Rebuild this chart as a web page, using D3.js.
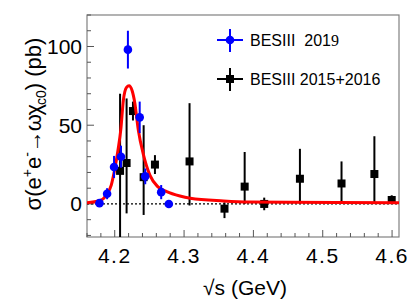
<!DOCTYPE html>
<html>
<head>
<meta charset="utf-8">
<script src="https://cdn.jsdelivr.net/npm/d3@7"></script>
<style>
  body { margin: 0; background: #fff; }
  svg { display: block; font-family: "Liberation Sans", Arial, sans-serif; }
</style>
</head>
<body>
<div id="chart"></div>
<script>
// BESIII 2019 (blue circles)
const blueE = [4.178, 4.189, 4.199, 4.209, 4.219, 4.236, 4.244, 4.267, 4.278]
const blueV = [0.5, 6.5, 23.5, 30, 98, 55, 17.5, 7.5, 0]
const blueErr = [1.5, 3.5, 7, 7, 12, 10, 5, 4.5, 1.5]

// BESIII 2015+2016 (black squares), asymmetric errors
const blackE = [4.2077, 4.2171, 4.2263, 4.2417, 4.258, 4.3079, 4.3583, 4.3874, 4.4156, 4.4671, 4.5271, 4.5745, 4.5995]
const blackV = [21, 26, 59, 17, 25, 27, -3, 11, 0, 16, 13, 19, 2.5]
const blackUp = [49, 41, 6, 33, 6, 37, 4, 22, 4, 19, 14, 24, 3]
const blackDn = [49, 32, 6, 24, 6, 28, 6, 11, 4, 16, 13, 19, 2.5]

// fit curve
const fitE = [4.16, 4.178, 4.188, 4.195, 4.2, 4.205, 4.2087, 4.2125, 4.217, 4.2206, 4.225, 4.229, 4.234, 4.241, 4.251, 4.262, 4.275, 4.294, 4.309, 4.357, 4.395, 4.45, 4.52, 4.61]
const fitV = [0.8, 2, 5.7, 12, 22, 35, 47, 66, 74, 75, 72, 64, 47, 32, 18, 11, 7.8, 5, 3.6, 1.9, 1.2, 1, 0.9, 0.8]

const xTicks = [4.2, 4.3, 4.4, 4.5, 4.6]
const yTicks = [0, 50, 100]

const W = 418, H = 300
const L = 87, R = 399, T = 15, B = 237

const svg = d3.select("#chart").append("svg").attr("width", W).attr("height", H)

const x = d3.scaleLinear().domain([4.16, 4.61]).range([L, R])
const y = d3.scaleLinear().domain([-21, 120]).range([B, T])

svg.append("clipPath").attr("id", "clip")
  .append("rect").attr("x", L).attr("y", T).attr("width", R - L).attr("height", B - T)

// frame
svg.append("rect")
  .attr("x", L).attr("y", T).attr("width", R - L).attr("height", B - T)
  .attr("fill", "none").attr("stroke", "#808080").attr("stroke-width", 1.2)

// ticks (inward)
const xMinor = d3.range(4.16, 4.611, 0.02)
svg.append("g").selectAll("line").data(xMinor).enter().append("line")
  .attr("x1", (d) => x(d)).attr("x2", (d) => x(d))
  .attr("y1", B)
  .attr("y2", (d) => xTicks.some((t) => Math.abs(t - d) < 1e-6) ? B - 7 : B - 4)
  .attr("stroke", "#555").attr("stroke-width", 1)

const yMinor = d3.range(-20, 121, 10)
svg.append("g").selectAll("line").data(yMinor).enter().append("line")
  .attr("y1", (d) => y(d)).attr("y2", (d) => y(d))
  .attr("x1", L)
  .attr("x2", (d) => yTicks.includes(d) ? L + 7 : L + 4)
  .attr("stroke", "#555").attr("stroke-width", 1)

// tick labels
svg.append("g").selectAll("text").data(xTicks).enter().append("text")
  .attr("x", (d) => x(d)).attr("y", 263)
  .attr("text-anchor", "middle").attr("font-size", 21)
  .attr("letter-spacing", 1.5)
  .text((d) => d.toFixed(1))

svg.append("g").selectAll("text").data(yTicks).enter().append("text")
  .attr("x", 82).attr("y", (d) => y(d) + 7.5)
  .attr("text-anchor", "end").attr("font-size", 21)
  .text((d) => d)

// axis titles
svg.append("text")
  .attr("x", 245).attr("y", 295)
  .attr("text-anchor", "middle").attr("font-size", 21)
  .text("√s (GeV)")

const yTitle = svg.append("text")
  .attr("transform", "translate(41,124) rotate(-90)")
  .attr("text-anchor", "middle").attr("font-size", 22)
yTitle.append("tspan").text("σ(e")
yTitle.append("tspan").attr("font-size", 14).attr("dy", -9).text("+")
yTitle.append("tspan").attr("dy", 9).text("e")
yTitle.append("tspan").attr("font-size", 14).attr("dy", -9).text("-")
yTitle.append("tspan").attr("dy", 9).attr("letter-spacing", -1).text("→ωχ")
yTitle.append("tspan").attr("font-size", 14).attr("dy", 5).text("c0")
yTitle.append("tspan").attr("dy", -5).text(") (pb)")

const plot = svg.append("g").attr("clip-path", "url(#clip)")

// zero line
plot.append("line")
  .attr("x1", L).attr("x2", R).attr("y1", y(0)).attr("y2", y(0))
  .attr("stroke", "#000").attr("stroke-width", 1.2).attr("stroke-dasharray", "2,2")

// black points
const black = blackE.map((e, i) => ({ e, v: blackV[i], up: blackUp[i], dn: blackDn[i] }))
plot.append("g").selectAll("line").data(black).enter().append("line")
  .attr("x1", (d) => x(d.e)).attr("x2", (d) => x(d.e))
  .attr("y1", (d) => y(d.v + d.up)).attr("y2", (d) => y(d.v - d.dn))
  .attr("stroke", "#000").attr("stroke-width", 2)
plot.append("g").selectAll("rect").data(black).enter().append("rect")
  .attr("x", (d) => x(d.e) - 4).attr("y", (d) => y(d.v) - 4)
  .attr("width", 8).attr("height", 8).attr("fill", "#000")

// fit curve
const fit = fitE.map((e, i) => ({ e, v: fitV[i] }))
plot.append("path").datum(fit)
  .attr("d", d3.line().x((d) => x(d.e)).y((d) => y(d.v)).curve(d3.curveMonotoneX))
  .attr("fill", "none").attr("stroke", "#ff0000").attr("stroke-width", 3)

// blue points
const blue = blueE.map((e, i) => ({ e, v: blueV[i], err: blueErr[i] }))
plot.append("g").selectAll("line").data(blue).enter().append("line")
  .attr("x1", (d) => x(d.e)).attr("x2", (d) => x(d.e))
  .attr("y1", (d) => y(d.v + d.err)).attr("y2", (d) => y(d.v - d.err))
  .attr("stroke", "#0000ff").attr("stroke-width", 2)
plot.append("g").selectAll("circle").data(blue).enter().append("circle")
  .attr("cx", (d) => x(d.e)).attr("cy", (d) => y(d.v))
  .attr("r", 4.3).attr("fill", "#0000ff")

// legend
const legend = svg.append("g")
const lg = [
  { cy: 40, color: "#0000ff", shape: "circle" },
  { cy: 79, color: "#000", shape: "square" }
]
lg.forEach((d) => {
  legend.append("line").attr("x1", 217).attr("x2", 243).attr("y1", d.cy).attr("y2", d.cy)
    .attr("stroke", d.color).attr("stroke-width", 2)
  legend.append("line").attr("x1", 230).attr("x2", 230).attr("y1", d.cy - 11).attr("y2", d.cy + 12)
    .attr("stroke", d.color).attr("stroke-width", 2)
  if (d.shape === "circle") {
    legend.append("circle").attr("cx", 230).attr("cy", d.cy).attr("r", 4.3).attr("fill", d.color)
  } else {
    legend.append("rect").attr("x", 226).attr("y", d.cy - 4).attr("width", 8).attr("height", 8).attr("fill", d.color)
  }
})
const t1 = legend.append("text").attr("x", 250).attr("y", 46).attr("font-size", 16).attr("xml:space", "preserve")
t1.append("tspan").text("BESIII  201")
t1.append("tspan").attr("font-family", "'Liberation Serif', serif").text("9")
legend.append("text").attr("x", 250).attr("y", 85).attr("font-size", 16).text("BESIII 2015+2016")
</script>
</body>
</html>
